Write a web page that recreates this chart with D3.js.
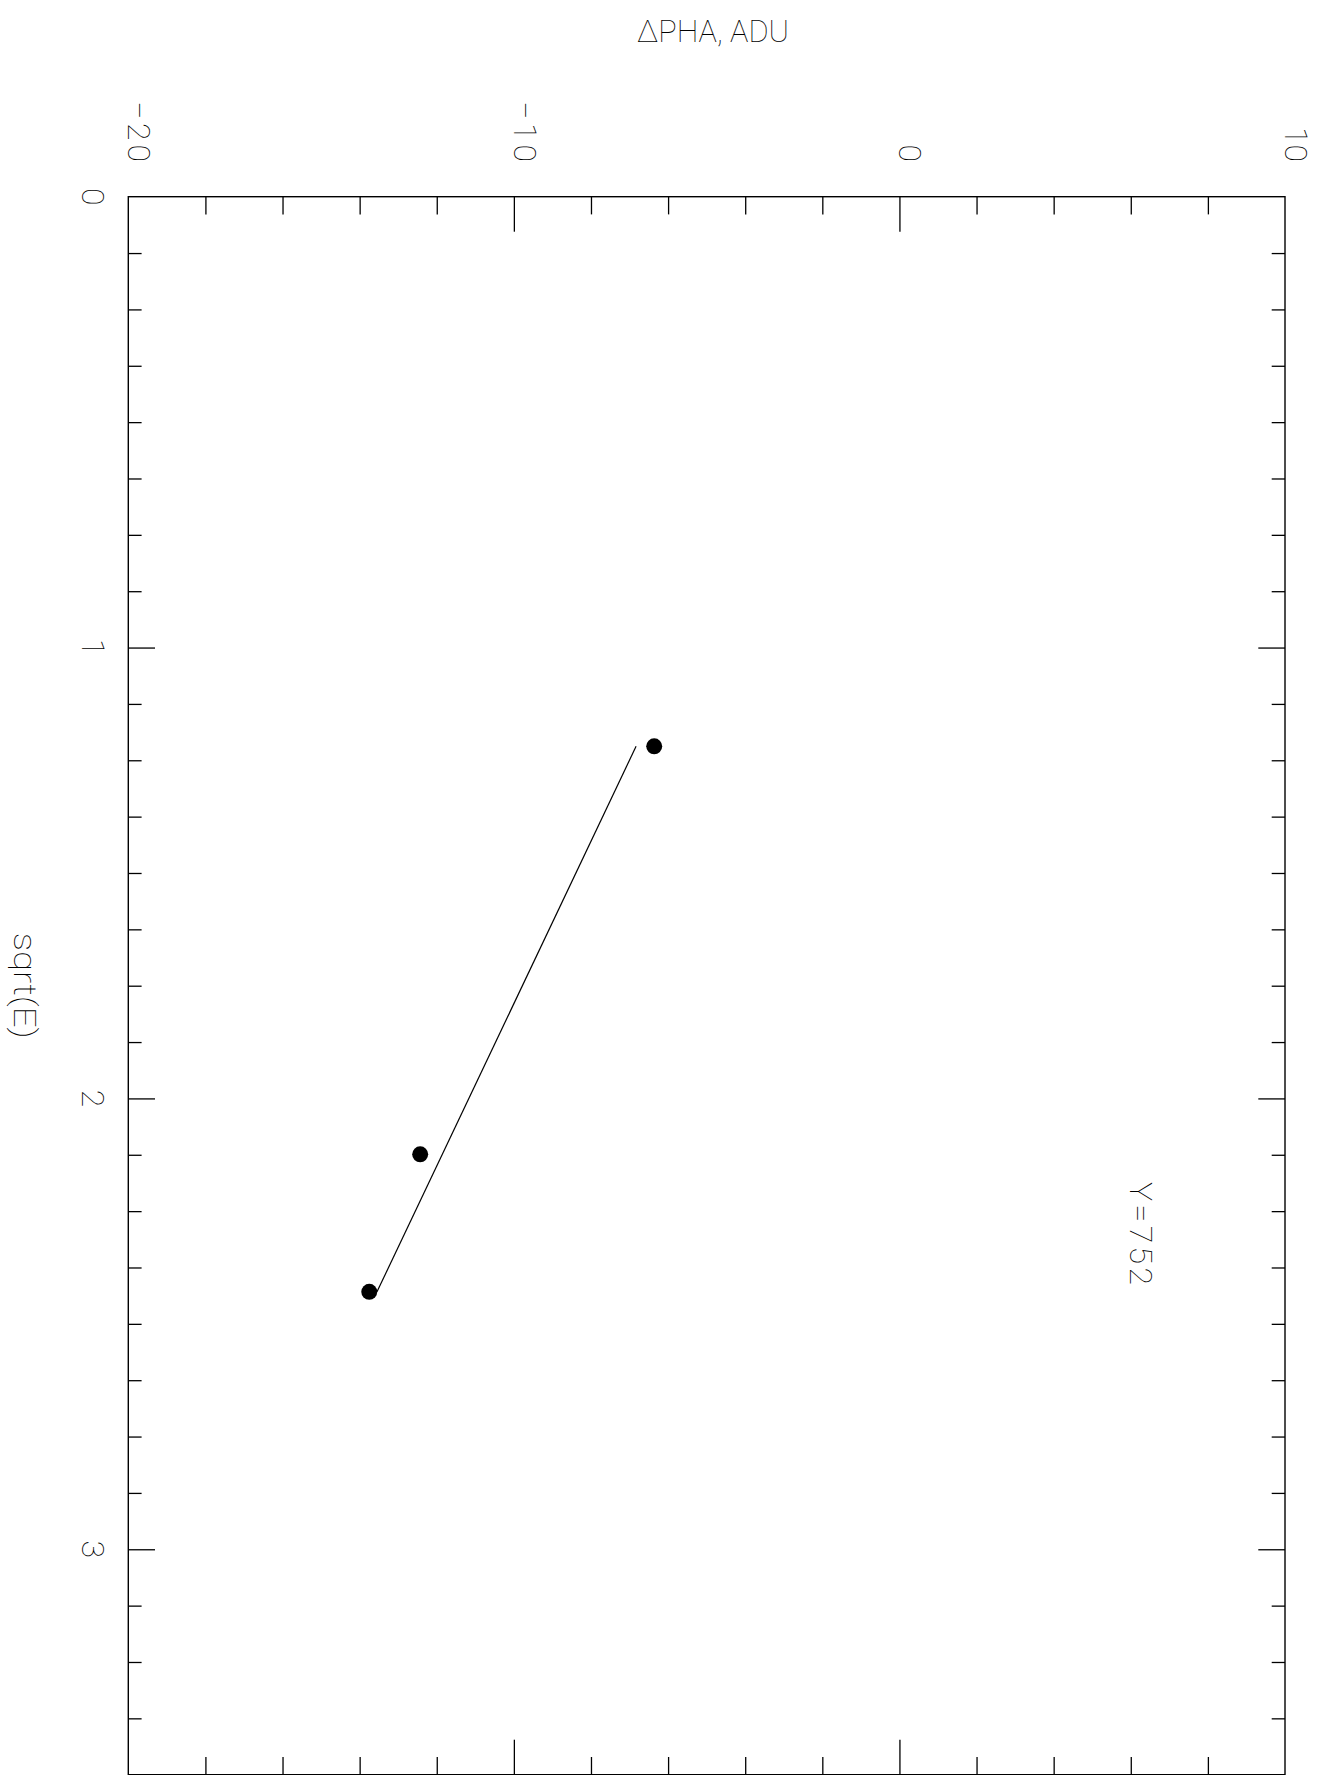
<!DOCTYPE html>
<html>
<head>
<meta charset="utf-8">
<script src="https://cdn.jsdelivr.net/npm/d3@7"></script>
<style>
  html, body { margin: 0; padding: 0; background: #fff; }
  svg { display: block; }
  text { font-family: Roboto, "Liberation Sans", sans-serif; font-weight: 100; fill: #000; }
</style>
</head>
<body>
<svg id="chart" width="1319" height="1775"></svg>
<script>
// Energy-dependent pulse-height offset at row Y=752
const sqrtE = [1.219, 2.124, 2.429];        // sqrt(E), keV^0.5
const dPHA = [-6.36, -12.43, -13.75];       // ΔPHA, ADU
const fitSqrtE = [1.219, 2.429];            // linear fit, end points
const fitPHA = [-6.83, -13.55];

const phaTicks = [-20, -10, 0, 10];
const phaMinor = d3.range(-18, 10, 2);
const eTicks = [0, 1, 2, 3];
const eMinor = d3.range(0.125, 3.5, 0.125);

const svg = d3.select("#chart");

// ΔPHA runs left to right, sqrt(E) runs top to bottom
const x = d3.scaleLinear().domain([-20, 10]).range([128.3, 1285]);
const y = d3.scaleLinear().domain([0, 3.5]).range([196.7, 1774.7]);

const [x0, x1] = x.range();
const [y0, y1] = y.range();

const axisStyle = g => {
  g.select(".domain").remove();
  g.selectAll(".tick line").attr("stroke", "#000").attr("stroke-width", 1.3);
};

// ticks along the top and bottom edges (ΔPHA)
svg.append("g").attr("transform", `translate(0,${y0})`)
  .call(d3.axisBottom(x).tickValues(phaMinor).tickSize(17.7).tickFormat(""))
  .call(g => g.selectAll(".tick").filter(d => d % 10 === 0).select("line").attr("y2", 35))
  .call(axisStyle);
svg.append("g").attr("transform", `translate(0,${y1})`)
  .call(d3.axisTop(x).tickValues(phaMinor).tickSize(17.7).tickFormat(""))
  .call(g => g.selectAll(".tick").filter(d => d % 10 === 0).select("line").attr("y2", -35))
  .call(axisStyle);

// ticks along the left and right edges (sqrt(E))
svg.append("g").attr("transform", `translate(${x0},0)`)
  .call(d3.axisRight(y).tickValues(eMinor).tickSize(13.3).tickFormat(""))
  .call(g => g.selectAll(".tick").filter(d => Number.isInteger(d)).select("line").attr("x2", 26.7))
  .call(axisStyle);
svg.append("g").attr("transform", `translate(${x1},0)`)
  .call(d3.axisLeft(y).tickValues(eMinor).tickSize(13.3).tickFormat(""))
  .call(g => g.selectAll(".tick").filter(d => Number.isInteger(d)).select("line").attr("x2", -26.7))
  .call(axisStyle);

// frame
svg.append("rect")
  .attr("x", x0).attr("y", y0)
  .attr("width", x1 - x0).attr("height", y1 - y0)
  .attr("fill", "none").attr("stroke", "#000").attr("stroke-width", 1.4);

// ΔPHA tick labels, written sideways above the frame
svg.append("g").selectAll("text")
  .data(phaTicks).join("text")
  .attr("transform", d => `translate(${x(d)},162) rotate(90)`)
  .attr("text-anchor", "end")
  .attr("font-size", 32)
  .each(function(d) {
    const t = d3.select(this).text(d < 0 ? "\u2212" + Math.abs(d) : String(d));
    if (d < 0) t.attr("textLength", 61).attr("lengthAdjust", "spacing");
  });

// sqrt(E) tick labels, left of the frame
svg.append("g").selectAll("text")
  .data(eTicks).join("text")
  .attr("transform", d => `translate(81.7,${y(d)}) rotate(90)`)
  .attr("text-anchor", "middle")
  .attr("font-size", 32)
  .text(d => d);

// axis titles
svg.append("text")
  .attr("x", 713).attr("y", 42)
  .attr("text-anchor", "middle")
  .attr("font-size", 32)
  .attr("textLength", 152).attr("lengthAdjust", "spacingAndGlyphs")
  .text("\u0394PHA, ADU");

svg.append("text")
  .attr("transform", `translate(13.5,${(y0 + y1) / 2}) rotate(90)`)
  .attr("text-anchor", "middle")
  .attr("font-size", 32)
  .attr("textLength", 106).attr("lengthAdjust", "spacingAndGlyphs")
  .text("sqrt(E)");

svg.append("text")
  .attr("transform", `translate(1130,1182) rotate(90)`)
  .attr("text-anchor", "start")
  .attr("font-size", 32)
  .attr("textLength", 103).attr("lengthAdjust", "spacing")
  .text("Y=752");

// fitted line
const fit = fitSqrtE.map((e, i) => [fitPHA[i], e]);
svg.append("path")
  .datum(fit)
  .attr("fill", "none").attr("stroke", "#000").attr("stroke-width", 1.2)
  .attr("d", d3.line().x(d => x(d[0])).y(d => y(d[1])));

// measured points
svg.append("g").selectAll("circle")
  .data(sqrtE.map((e, i) => [dPHA[i], e])).join("circle")
  .attr("cx", d => x(d[0])).attr("cy", d => y(d[1]))
  .attr("r", 8).attr("fill", "#000");
</script>
</body>
</html>
